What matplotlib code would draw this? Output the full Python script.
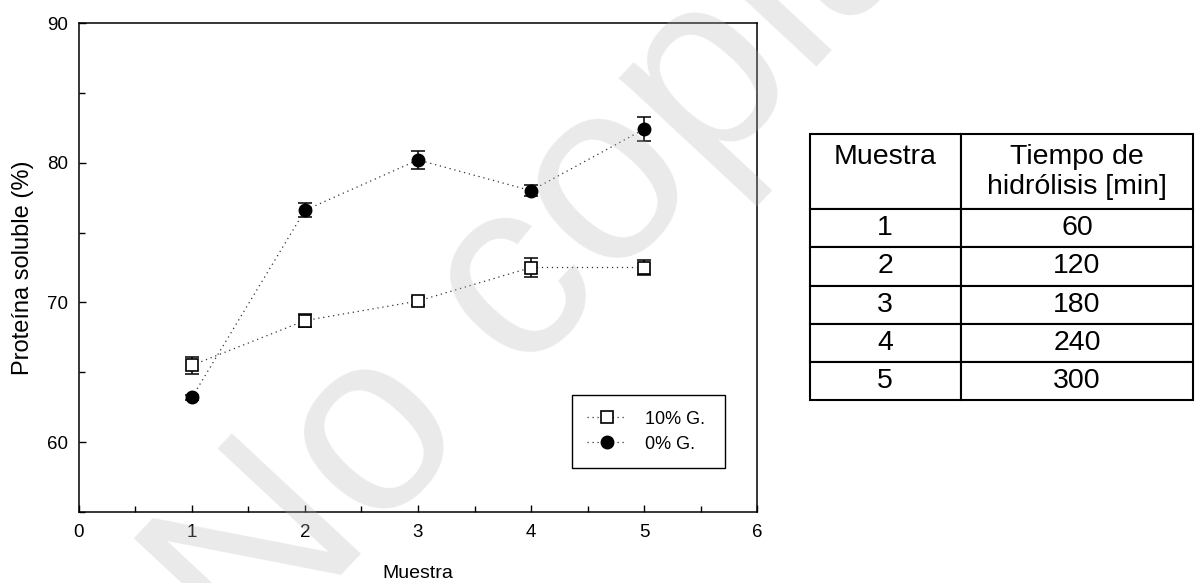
import matplotlib.pyplot as plt
from matplotlib.ticker import MultipleLocator

# datos
muestra = [1, 2, 3, 4, 5]
g10 = [65.5, 68.7, 70.1, 72.5, 72.5]
g10_err = [0.6, 0.45, 0.3, 0.7, 0.55]
g0 = [63.2, 76.6, 80.2, 78.0, 82.4]
g0_err = [0.15, 0.5, 0.65, 0.4, 0.85]
tiempo = [60, 120, 180, 240, 300]

plt.rcParams['font.family'] = ['Liberation Sans', 'DejaVu Sans']

fig = plt.figure(figsize=(11.96, 5.83), dpi=100)
ax = fig.add_axes([0.066, 0.1218, 0.567, 0.8387])
ax.set_facecolor('none')

# barras de error
ax.errorbar(muestra, g10, yerr=g10_err, fmt='none', ecolor='black',
            elinewidth=1.1, capsize=5, capthick=1.1, zorder=2)
ax.errorbar(muestra, g0, yerr=g0_err, fmt='none', ecolor='black',
            elinewidth=1.1, capsize=5, capthick=1.1, zorder=2)

# series
ax.plot(muestra, g10, linestyle=(0, (1, 3)), color='#333333', lw=0.9,
        marker='s', markersize=8, markerfacecolor='white',
        markeredgecolor='black', markeredgewidth=1.2, label='10% G.', zorder=3)
ax.plot(muestra, g0, linestyle=(0, (1, 3)), color='#333333', lw=0.9,
        marker='o', markersize=9, markerfacecolor='black',
        markeredgecolor='black', label='0% G.', zorder=3)

ax.set_xlim(0, 6)
ax.set_ylim(55, 90)
ax.xaxis.set_major_locator(MultipleLocator(1))
ax.xaxis.set_minor_locator(MultipleLocator(0.5))
ax.yaxis.set_major_locator(MultipleLocator(10))
ax.yaxis.set_minor_locator(MultipleLocator(5))
ax.set_yticks([60, 70, 80, 90])
ax.tick_params(which='both', direction='in', top=False, right=False, width=1)
ax.tick_params(which='major', length=5)
ax.tick_params(which='minor', length=4)
ax.tick_params(axis='x', which='major', pad=9, labelsize=13.5)
ax.tick_params(axis='y', which='major', pad=8, labelsize=13.5)
for s in ax.spines.values():
    s.set_linewidth(1.1)

ax.set_xlabel('Muestra', fontsize=14, labelpad=17)
ax.set_ylabel('Proteína soluble (%)', fontsize=17, labelpad=9)

leg = ax.legend(loc='lower left', bbox_to_anchor=(0.727, 0.09, 0.226, 0.143),
                mode='expand', borderaxespad=0, fancybox=False,
                edgecolor='black', framealpha=1, fontsize=13,
                handlelength=2.2, handletextpad=1.0, borderpad=0.85,
                labelspacing=0.45)
leg.get_frame().set_linewidth(1.0)

# tabla de tiempos
tab_ax = fig.add_axes([0.677, 0.3139, 0.3206, 0.4563])
tab_ax.axis('off')
cell_text = [[str(m), str(t)] for m, t in zip(muestra, tiempo)]
tbl = tab_ax.table(cellText=cell_text,
                   colLabels=['Muestra\n ', 'Tiempo de\nhidrólisis [min]'],
                   cellLoc='center', colWidths=[0.394, 0.606], bbox=[0, 0, 1, 1])
tbl.auto_set_font_size(False)
tbl.set_fontsize(20.5)
for (r, c), cell in tbl.get_celld().items():
    cell.set_linewidth(1.5)
    cell.set_edgecolor('black')
    cell.set_height(75 if r == 0 else 38)

# marca de agua
fig.text(0.208, -0.156, 'No copiar', rotation=47, rotation_mode='anchor',
         ha='left', va='baseline', fontsize=185, color='#b5b5b5', alpha=0.28,
         zorder=10)

fig.savefig('out.png', dpi=100)
